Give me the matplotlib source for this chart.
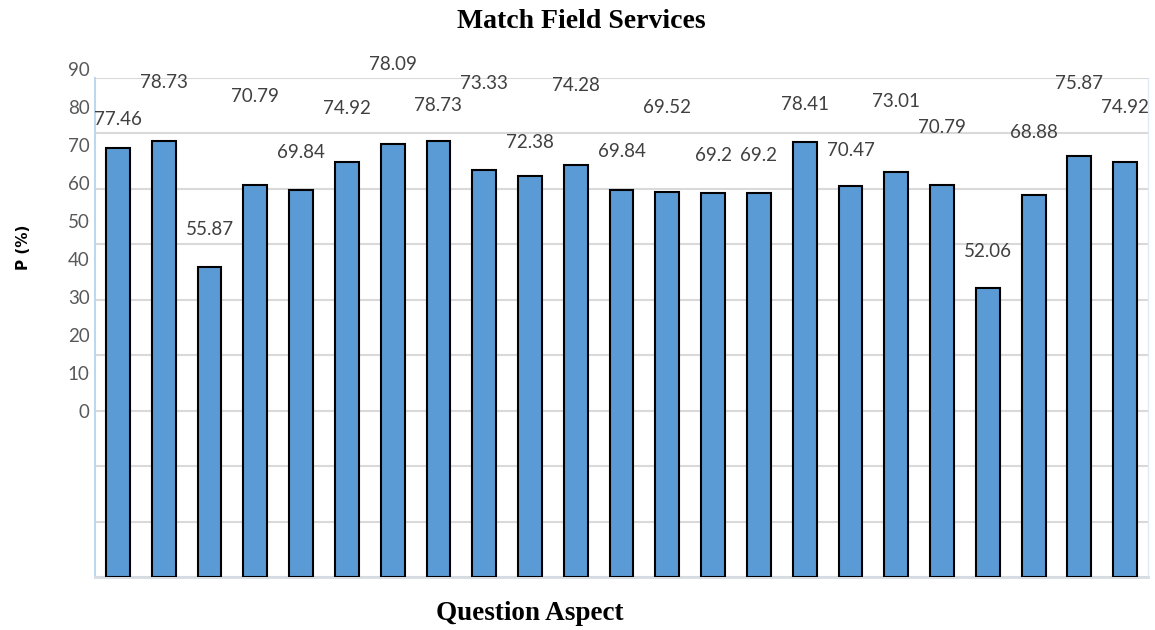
import matplotlib.pyplot as plt
import numpy as np

# values shown on the bars
values = [77.46, 78.73, 55.87, 70.79, 69.84, 74.92, 78.09, 78.73, 73.33, 72.38,
          74.28, 69.84, 69.52, 69.2, 69.2, 78.41, 70.47, 73.01, 70.79, 52.06,
          68.88, 75.87, 74.92]
# where each value label sits (axis units), as placed in the original
label_pos = [82.5, 89.2, 62.6, 86.6, 76.5, 84.5, 92.5, 85.0, 89.0, 78.3,
             88.6, 76.7, 84.7, 76.0, 76.0, 85.3, 77.0, 85.8, 81.0, 58.8,
             80.1, 89.0, 84.7]
# left-hand labels, drawn off the gridlines like in the source picture
tick_labels = [0, 10, 20, 30, 40, 50, 60, 70, 80, 90]

fig = plt.figure(figsize=(11.55, 6.3), dpi=100)
ax = fig.add_axes([0.0823, 0.0841, 0.9117, 0.792])

x = np.arange(len(values))
ax.bar(x, values, width=0.52, color='#5b9bd5', edgecolor='black', linewidth=1.5, zorder=3)

for i in range(len(values)):
    ax.text(x[i], label_pos[i], f'{values[i]:g}', ha='center', va='center',
            fontsize=13.5, color='#404040', family='Lato', zorder=4)

ax.set_xlim(-0.5, len(values) - 0.5)
ax.set_ylim(0, 90)
ax.set_yticks(np.arange(0, 91, 10))
ax.set_yticklabels([])
ax.set_xticks([])
ax.tick_params(axis='y', length=0)
ax.grid(axis='y', color='#d9d9d9', linewidth=1.5, zorder=0)

ax.spines['top'].set_visible(False)
ax.spines['bottom'].set_color('#d6dce4')
ax.spines['bottom'].set_linewidth(2)
ax.spines['left'].set_color('#bdd7ee')
ax.spines['left'].set_linewidth(1.5)
ax.spines['right'].set_color('#deebf7')
ax.spines['right'].set_linewidth(1)

# the y labels are spread tighter than the gridlines
for t in tick_labels:
    ax.text(-0.62, 29.6 + t * 0.687, str(t), ha='right', va='center',
            fontsize=13.5, color='#595959', family='Lato',
            transform=ax.transData, clip_on=False)

fig.text(23 / 1155, 1 - 247 / 630, 'P (%)', rotation=90, ha='center', va='center',
         fontsize=11, fontweight='bold', family='DejaVu Sans', color='black')
fig.text(581 / 1155, 1 - 22 / 630, 'Match Field Services', ha='center', va='center',
         fontsize=20, fontweight='bold', family='Liberation Serif')
fig.text(530 / 1155, 1 - 613 / 630, 'Question Aspect', ha='center', va='center',
         fontsize=19.5, fontweight='bold', family='Liberation Serif')

fig.savefig('out.png', dpi=100)
